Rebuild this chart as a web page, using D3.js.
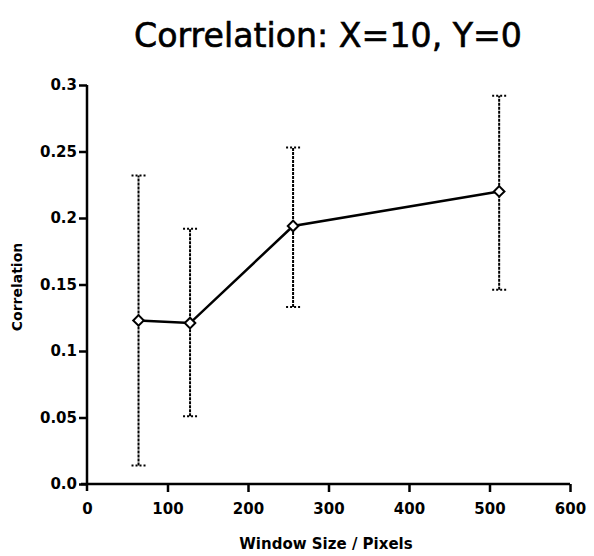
<!DOCTYPE html>
<html><head><meta charset="utf-8">
<script src="https://cdn.jsdelivr.net/npm/d3@7"></script>
<style>body{margin:0;background:#fff}svg{display:block}</style>
</head><body>
<script>
const windowSizes = [64, 128, 256, 512];
const correlation = [0.123, 0.121, 0.194, 0.220];
const errLow = [0.014, 0.051, 0.133, 0.146];
const errHigh = [0.232, 0.192, 0.253, 0.292];
const yTicks = [0, 0.05, 0.1, 0.15, 0.2, 0.25, 0.3];
const yTickLabels = ["0.0", "0.05", "0.1", "0.15", "0.2", "0.25", "0.3"];
const xTicks = [0, 100, 200, 300, 400, 500, 600];

const W = 594, H = 556;
const svg = d3.select("body").append("svg").attr("width", W).attr("height", H);
const x = d3.scaleLinear().domain([0, 600]).range([87, 570]);
const y = d3.scaleLinear().domain([0, 0.3]).range([484, 85]);
const font = "'DejaVu Sans', sans-serif";

svg.append("text").attr("x", 328).attr("y", 47).attr("text-anchor", "middle")
  .attr("font-family", font).attr("font-size", 33).attr("textLength", 388).attr("lengthAdjust", "spacingAndGlyphs")
  .attr("stroke", "#000").attr("stroke-width", 0.6)
  .text("Correlation: X=10, Y=0");

const yAxis = d3.axisLeft(y).tickValues(yTicks).tickFormat((d, i) => yTickLabels[i]).tickSize(8).tickPadding(2);
const gy = svg.append("g").attr("transform", `translate(${x(0)},0)`).call(yAxis);
const xAxis = d3.axisBottom(x).tickValues(xTicks).tickSize(8).tickPadding(11);
const gx = svg.append("g").attr("transform", `translate(0,${y(0)})`).call(xAxis);
[gx, gy].forEach(g => {
  g.select(".domain").attr("stroke", "#000").attr("stroke-width", 2.5);
  g.selectAll(".tick line").attr("stroke", "#000").attr("stroke-width", 2.5);
  g.selectAll("text").attr("font-family", font).attr("font-weight", "bold").attr("font-size", 15).attr("fill", "#000");
});
gy.select(".domain").attr("d", `M0,${y(0.3)}H0V${y(0) + 7}`);
gx.select(".domain").attr("d", `M${x(0) - 6},0H${x(600)}`);
gx.selectAll(".tick").filter(d => d === 0).select("line").remove();

svg.append("text").attr("transform", `translate(22,287) rotate(-90)`).attr("text-anchor", "middle")
  .attr("font-family", font).attr("font-weight", "bold").attr("font-size", 14).text("Correlation");
svg.append("text").attr("x", 326).attr("y", 549).attr("text-anchor", "middle")
  .attr("font-family", font).attr("font-weight", "bold").attr("font-size", 15).text("Window Size / Pixels");

const data = windowSizes.map((w, i) => ({w, c: correlation[i], lo: errLow[i], hi: errHigh[i]}));

const eb = svg.append("g").attr("stroke", "#000").attr("stroke-width", 2);
data.forEach(d => {
  eb.append("line").attr("x1", x(d.w)).attr("x2", x(d.w)).attr("y1", y(d.lo)).attr("y2", y(d.hi))
    .attr("stroke-dasharray", "3,1");
  [d.lo, d.hi].forEach(v => {
    eb.append("line").attr("x1", x(d.w) - 7).attr("x2", x(d.w) + 7).attr("y1", y(v)).attr("y2", y(v))
      .attr("stroke-dasharray", "2,2");
  });
});

svg.append("path").datum(data)
  .attr("d", d3.line().x(d => x(d.w)).y(d => y(d.c)))
  .attr("fill", "none").attr("stroke", "#000").attr("stroke-width", 2.5);

svg.append("g").selectAll("path").data(data).join("path")
  .attr("d", d3.symbol(d3.symbolSquare, 56))
  .attr("transform", d => `translate(${x(d.w)},${y(d.c)}) rotate(45)`)
  .attr("fill", "#fff").attr("stroke", "#000").attr("stroke-width", 2);
</script>
</body></html>
